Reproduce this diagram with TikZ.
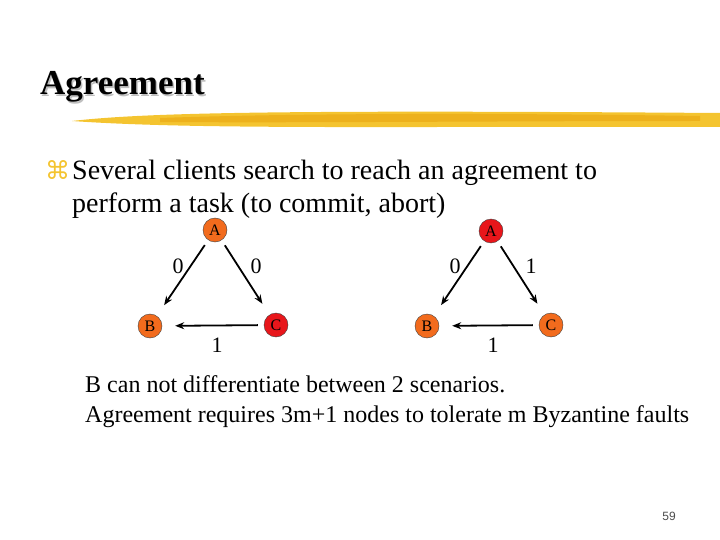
\documentclass[tikz,border=0pt]{standalone}
\usepackage{fontspec}
\setmainfont{Liberation Serif}
\newfontfamily\symfont{DejaVu Sans}
\newfontfamily\pagefont{Liberation Sans}
\usetikzlibrary{arrows.meta}
\definecolor{slideorange}{HTML}{F26B1D}
\definecolor{slidered}{HTML}{E8161B}
\definecolor{brushgold}{HTML}{F4C430}
\definecolor{brushdeep}{HTML}{EDB11C}
\tikzset{
    proc/.style={circle,draw=black!75,thin,minimum size=24pt,inner sep=0pt,font=\fontsize{16}{16}\selectfont},
    honest/.style={proc,fill=slideorange},
    traitor/.style={proc,fill=slidered},
    msg/.style={-{Stealth[length=9pt,width=7pt]},line width=1.8pt,shorten <=6pt,shorten >=13pt},
    val/.style={font=\fontsize{22}{22}\selectfont},
    body/.style={anchor=base west,inner sep=0pt,font=\fontsize{28}{28}\selectfont},
    remark/.style={anchor=base west,inner sep=0pt,font=\fontsize{24}{24}\selectfont},
}

\begin{document}
\begin{tikzpicture}[x=1pt,y=-1pt]
    \useasboundingbox (0,0) rectangle (720,540);
    % title with shadow and brush stroke
    \node[anchor=base west,inner sep=0pt,text=black!25,font=\fontsize{35}{35}\selectfont\bfseries] (tshadow) at (41.5,96.5) {Agreement};
    \node[anchor=base west,inner sep=0pt,font=\fontsize{35}{35}\selectfont\bfseries] (title) at (40,95) {Agreement};
    \fill[brushgold] (72,121) .. controls (150,112) and (300,110) .. (720,113)
        -- (720,127) .. controls (400,126) and (200,130) .. (72,121) -- cycle;
    \fill[brushdeep] (160,118) .. controls (300,113) and (500,113) .. (700,116)
        -- (700,121) .. controls (500,121) and (300,123) .. (160,122) -- cycle;
    % bullet text
    \node[anchor=base west,inner sep=0pt,text=brushgold,font=\symfont\fontsize{25}{25}\selectfont] (bullet) at (45,180) {⌘};
    \node[body] (line1) at (72,180) {Several clients search to reach an agreement to};
    \node[body] (line2) at (72,213) {perform a task (to commit, abort)};
    % first scenario: C is the traitor
    \node[honest] (Al) at (215,230) {A};
    \node[honest] (Bl) at (150,326) {B};
    \node[traitor] (Cl) at (276,325) {C};
    \draw[msg] (Al) -- (Bl);
    \draw[msg] (Al) -- (Cl);
    \draw[msg] (Cl) -- (Bl);
    \node[val] (lab1) at (178,266) {0};
    \node[val] (lab2) at (256,266) {0};
    \node[val] (lab3) at (217,345) {1};
    % second scenario: A is the traitor
    \node[traitor] (Ar) at (491,231) {A};
    \node[honest] (Br) at (427,326) {B};
    \node[honest] (Cr) at (551,325) {C};
    \draw[msg] (Ar) -- (Br);
    \draw[msg] (Ar) -- (Cr);
    \draw[msg] (Cr) -- (Br);
    \node[val] (lab4) at (455,266) {0};
    \node[val] (lab5) at (531,266) {1};
    \node[val] (lab6) at (493,345) {1};
    % conclusion
    \node[remark] (rem1) at (85,392) {B can not differentiate between 2 scenarios.};
    \node[remark] (rem2) at (85,422) {Agreement requires 3m+1 nodes to tolerate m Byzantine faults};
    \node[text=black!70,font=\pagefont\fontsize{12}{12}\selectfont] (page) at (669,516) {59};
\end{tikzpicture}
\end{document}
